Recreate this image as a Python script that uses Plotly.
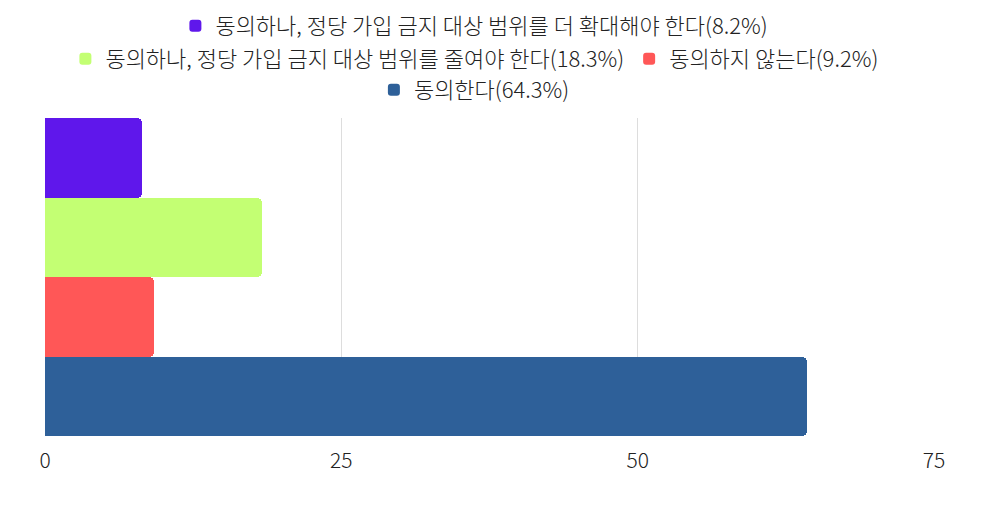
import plotly.graph_objects as go

# categories (top to bottom) and values (%)
labels = [
    "동의하나, 정당 가입 금지 대상 범위를 더 확대해야 한다(8.2%)",
    "동의하나, 정당 가입 금지 대상 범위를 줄여야 한다(18.3%)",
    "동의하지 않는다(9.2%)",
    "동의한다(64.3%)",
]
values = [8.2, 18.3, 9.2, 64.3]
colors = ["#5f17eb", "#c3ff73", "#ff5757", "#2e6099"]
legend_rows = ["legend", "legend2", "legend2", "legend3"]

x_ticks = [0, 25, 50, 75]

H = 495
T, B = 110, 67
PH = H - T - B

fig = go.Figure()
for lab, val, col, lg in zip(labels, values, colors, legend_rows):
    fig.add_trace(go.Bar(
        y=[lab], x=[val], name=lab, orientation="h", legend=lg, showlegend=True,
        marker=dict(color=col, cornerradius=5, line=dict(width=0)),
    ))

leg_font = dict(family="Noto Sans CJK KR", size=22, weight=300, color="#222222")


def row_legend(y_px):
    return dict(orientation="h", x=0.483, xanchor="center",
                y=(H - B - y_px) / PH, yanchor="middle",
                font=leg_font, itemwidth=30, traceorder="normal",
                bgcolor="rgba(0,0,0,0)")


fig.update_layout(
    width=968, height=H,
    barmode="stack", bargap=0,
    font=dict(family="Noto Sans CJK KR", size=19, color="#222222"),
    plot_bgcolor="white", paper_bgcolor="white",
    margin=dict(l=37, r=42, t=T, b=B, autoexpand=False),
    legend=row_legend(18),
    legend2=row_legend(51),
    legend3=row_legend(82),
    xaxis=dict(range=[0, 75], tickvals=x_ticks, showgrid=True, gridcolor="#dddddd",
               zeroline=False, showline=False, ticks="", ticklen=0, ticklabelstandoff=10,
               tickfont=dict(family="Noto Sans CJK KR", size=21, weight=300, color="#222222")),
    yaxis=dict(autorange="reversed", showticklabels=False, showgrid=False,
               zeroline=False, showline=False),
)

fig.write_html("out.html")
